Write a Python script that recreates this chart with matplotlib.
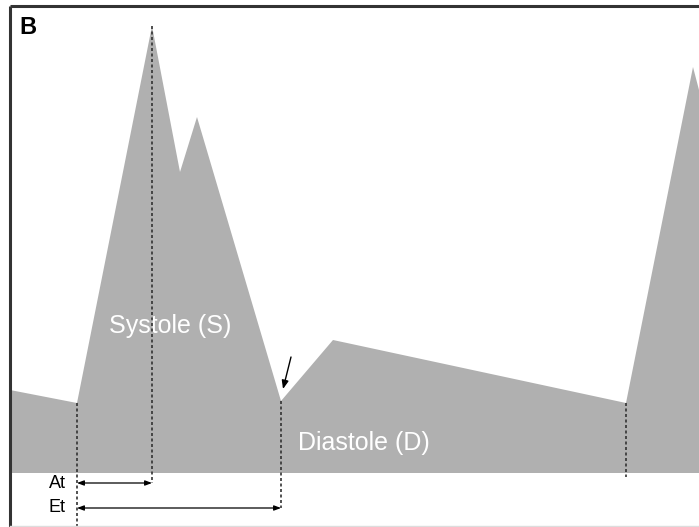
import matplotlib
matplotlib.use("Agg")
import matplotlib.pyplot as plt

# waveform outline (image coordinates, y grows downward)
wave_x = [10, 77, 152, 180, 197, 281, 333, 626, 693, 699]
wave_y = [390, 403, 26, 172, 117, 401, 340, 403, 67, 90]
BASE = 473

# dashed markers: x, top, bottom
mark_x = [77, 152, 281, 626]
mark_top = [403, 26, 401, 403]
mark_bot = [527, 483, 508, 477]

# interval arrows
span_labels = ["At", "Et"]
span_start = [77, 77]
span_end = [152, 281]
span_y = [483, 508]

GRAY = "#b0b0b0"

fig = plt.figure(figsize=(6.99, 5.27), dpi=100)
ax = fig.add_axes([0, 0, 1, 1])
ax.set_xlim(0, 699); ax.set_ylim(527, 0)
ax.axis("off")

xs = [wave_x[0]] + wave_x + [wave_x[-1]]
ys = [BASE] + wave_y + [BASE]
ax.fill(xs, ys, color=GRAY, lw=0, zorder=1)

for x, t, b in zip(mark_x, mark_top, mark_bot):
    ax.plot([x, x], [t, b], color="#333333", lw=1.2, ls=(0, (1.8, 1.5)), zorder=3)

for lab, s, e, y in zip(span_labels, span_start, span_end, span_y):
    ax.annotate("", xy=(e, y), xytext=(s, y),
                arrowprops=dict(arrowstyle="<|-|>,head_length=0.4,head_width=0.15",
                                color="black", lw=0.9, shrinkA=0, shrinkB=0), zorder=4)
    ax.text(66, y, lab, ha="right", va="center", fontsize=13,
            family="Liberation Sans", color="black")

# small arrow toward the dicrotic notch
ax.annotate("", xy=(283, 389), xytext=(291, 357),
            arrowprops=dict(arrowstyle="-|>,head_length=0.5,head_width=0.2",
                            color="black", lw=1.0, shrinkA=0, shrinkB=0), zorder=4)

ax.text(170, 326, "Systole (S)", ha="center", va="center", fontsize=18,
        family="Liberation Sans", color="white", zorder=2)
ax.text(364, 443, "Diastole (D)", ha="center", va="center", fontsize=18,
        family="Liberation Sans", color="white", zorder=5)
ax.text(19, 28, "B", ha="left", va="center", fontsize=17, fontweight="bold",
        family="Liberation Sans", color="black")

# frame
ax.plot([10, 10], [527, 6], color="#333333", lw=2.2, solid_capstyle="butt", zorder=6)
ax.plot([10, 699], [6, 6], color="#333333", lw=2.2, solid_capstyle="butt", zorder=6)
ax.plot([10, 699], [525.5, 525.5], color="#dddddd", lw=1, zorder=6)

fig.savefig("out.png", dpi=100)
